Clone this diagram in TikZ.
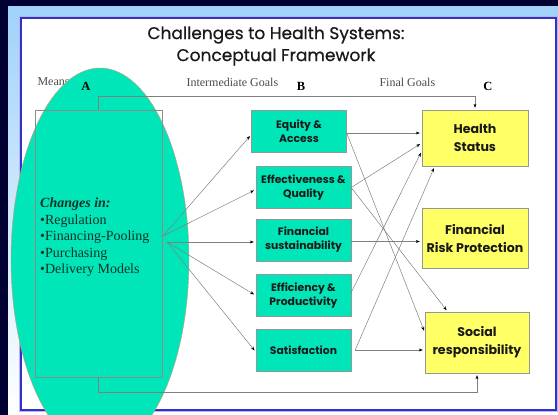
\documentclass[tikz,border=0pt]{standalone}
\usepackage{fontspec}
\setmainfont{Liberation Serif}
\newfontfamily\gothic{Poppins}
\newfontfamily\gothictitle{Poppins}[FakeBold=0.5]
\usetikzlibrary{arrows.meta}

\definecolor{navy}{RGB}{0,0,50}
\definecolor{skyband}{RGB}{160,210,250}
\definecolor{frameblue}{RGB}{50,50,200}
\definecolor{mint}{RGB}{0,230,184}
\definecolor{pale}{RGB}{255,255,102}
\definecolor{rim}{RGB}{150,150,150}
\definecolor{ink}{RGB}{25,25,25}
\definecolor{meanstext}{RGB}{10,50,40}

\begin{document}
\begin{tikzpicture}[x=1pt,y=-1pt,
  midbox/.style={draw=rim, fill=mint, text=ink, align=center, inner sep=0pt,
    minimum width=95pt, minimum height=42pt, font=\gothic\bfseries\fontsize{10.8}{14}\selectfont},
  goalbox/.style={draw=rim, fill=pale, text=ink, align=center, inner sep=0pt,
    minimum width=106pt, minimum height=58pt, font=\gothic\bfseries\fontsize{12.6}{18}\selectfont},
  link/.style={draw=gray, line width=0.5pt, shorten >=2pt,
    -{Stealth[length=4pt,width=3pt,color=black]}},
  head/.style={text=black!70, font=\fontsize{12}{14}\selectfont, anchor=west},
  letter/.style={font=\bfseries\fontsize{12.5}{14}\selectfont}]
\clip (0,0) rectangle (558,415);
\fill[navy] (0,0) rectangle (558,415);
\shade[top color=skyband, bottom color=white] (8,6) rectangle (558,415);
\draw[frameblue!35, line width=4pt] (21,18) rectangle (556,410);
\draw[frameblue, line width=1.6pt, fill=white] (21,18) rectangle (556,410);

% title and column heads
\node[font=\gothictitle\fontsize{17}{22}\selectfont, text=ink, align=center] (title) at (276,46)
  {Challenges to Health Systems:\\Conceptual Framework};
\node[head] (meanshead) at (34,82) {Means};
\node[head] (midhead) at (183,82) {Intermediate Goals};
\node[head] (finalhead) at (376,82) {Final Goals};

\draw[draw={rgb,255:red,225;green,150;blue,120}, fill=mint, line width=0.4pt]
  (100,259.5) ellipse [x radius=89pt, y radius=191.5pt];

\node[letter] (la) at (86,86) {A};
\node[letter] (lb) at (301,86) {B};
\node[letter] (lc) at (488,86) {C};

% means box
\node[draw=black!45, minimum width=127pt, minimum height=267pt, inner sep=0pt] (means) at (98.5,243.5) {};
\node[anchor=north west, align=left, text=meanstext, inner sep=0pt,
  font=\fontsize{14}{16.5}\selectfont] (changes) at (40,198)
  {\textbf{\textit{Changes in:}}\\\textbullet Regulation\\\textbullet Financing-Pooling\\\textbullet Purchasing\\\textbullet Delivery Models};
\coordinate (fanA) at (163,236);
\coordinate (fanB) at (167,242);

% intermediate goals
\node[midbox] (equity) at (299,131.5) {Equity \&\\Access};
\node[midbox] (effect) at (303.5,187.5) {Effectiveness \&\\Quality};
\node[midbox] (sustain) at (303.5,240) {Financial\\sustainability};
\node[midbox] (effic) at (303.5,295.5) {Efficiency \&\\Productivity};
\node[midbox] (satis) at (303.5,350) {Satisfaction};

% final goals
\node[goalbox, minimum height=56pt] (health) at (475,138) {Health\\Status};
\node[goalbox, minimum height=60pt] (risk) at (475,238.5) {Financial\\Risk Protection};
\node[goalbox, minimum width=104pt, minimum height=61pt] (social) at (477,342.5) {Social\\responsibility};

\coordinate (eqout) at ([yshift=-1.5pt]equity.east);
\coordinate (susout) at ([yshift=-1.5pt]sustain.east);
\coordinate (satout) at ([xshift=4pt]satis.east);

% means to intermediate goals
\draw[link] (fanA) -- ([yshift=-3pt]equity.west);
\draw[link] (fanA) -- ([yshift=-2pt]effect.west);
\draw[link] (fanB) -- (sustain.west |- fanB);
\draw[link] (fanB) -- (effic.west);
\draw[link] (fanB) -- ([yshift=-2pt]satis.west);

% intermediate to final goals
\draw[link] (eqout) -- (health.west |- eqout);
\draw[link] (eqout) -- ([yshift=10pt]social.west);
\draw[link] (effect.east) -- ([yshift=-5pt]health.west);
\draw[link] (effect.east) -- ([xshift=23pt]social.north west);
\draw[link] (susout) -- (risk.west |- susout);
\draw[link] ([yshift=3pt]effic.east) -- ([yshift=-13pt]health.west);
\draw[link] (satout) -- ([xshift=13pt]health.south west);
\draw[link] (satout) -- (social.west |- satout);

% means straight to final goals
\draw[link] (means.north) -- ++(0,-14) -| (health.north);
\draw[link] (means.south) -- ++(0,15) -| (social.south);
\end{tikzpicture}
\end{document}
